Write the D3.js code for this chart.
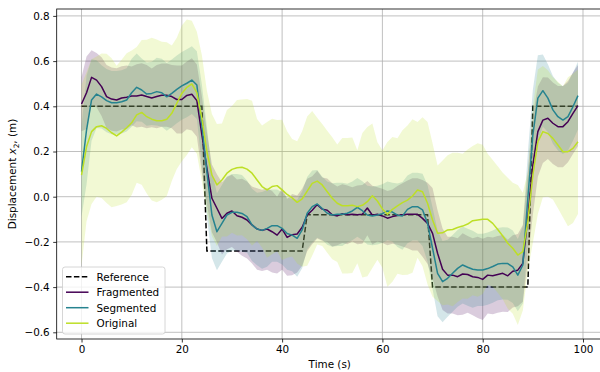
<!DOCTYPE html>
<html><head><meta charset="utf-8">
<script src="https://cdn.jsdelivr.net/npm/d3@7/dist/d3.min.js"></script>
<style>body{margin:0;background:#fff}svg{display:block;font-family:"DejaVu Sans",sans-serif}</style>
</head><body><svg id="c" width="600" height="372"></svg>
<script>
const reference = [0.4,0.4,0.4,0.4,0.4,0.4,0.4,0.4,0.4,0.4,0.4,0.4,0.4,0.4,0.4,0.4,0.4,0.4,0.4,0.4,0.4,0.4,0.4,0.4,0.4,
-0.24,-0.24,-0.24,-0.24,-0.24,-0.24,-0.24,-0.24,-0.24,-0.24,-0.24,-0.24,-0.24,-0.24,-0.24,-0.24,-0.24,-0.24,-0.24,-0.24,
-0.08,-0.08,-0.08,-0.08,-0.08,-0.08,-0.08,-0.08,-0.08,-0.08,-0.08,-0.08,-0.08,-0.08,-0.08,-0.08,-0.08,-0.08,-0.08,-0.08,-0.08,-0.08,-0.08,-0.08,-0.08,
-0.4,-0.4,-0.4,-0.4,-0.4,-0.4,-0.4,-0.4,-0.4,-0.4,-0.4,-0.4,-0.4,-0.4,-0.4,-0.4,-0.4,-0.4,-0.4,-0.4,
0.4,0.4,0.4,0.4,0.4,0.4,0.4,0.4,0.4,0.4];

const fragmented = [0.41,0.46,0.528,0.516,0.487,0.443,0.432,0.428,0.437,0.44,
0.446,0.446,0.45,0.443,0.437,0.443,0.449,0.449,0.443,0.43,
0.43,0.448,0.453,0.425,0.273,0.126,-0.007,-0.051,-0.096,-0.073,
-0.063,-0.084,-0.091,-0.103,-0.125,-0.143,-0.149,-0.143,-0.155,-0.17,
-0.143,-0.18,-0.168,-0.165,-0.135,-0.081,-0.06,-0.035,-0.055,-0.06,
-0.08,-0.085,-0.075,-0.08,-0.078,-0.08,-0.078,-0.05,-0.082,-0.078,
-0.085,-0.095,-0.088,-0.083,-0.08,-0.078,-0.078,-0.078,-0.096,-0.118,
-0.162,-0.25,-0.321,-0.347,-0.347,-0.354,-0.342,-0.344,-0.354,-0.357,
-0.366,-0.347,-0.35,-0.344,-0.339,-0.35,-0.33,-0.325,-0.295,-0.09,
0.14,0.288,0.339,0.347,0.325,0.31,0.31,0.332,0.369,0.403];

const segmented = [0.111,0.295,0.428,0.454,0.442,0.425,0.416,0.416,0.42,0.428,
0.46,0.484,0.472,0.454,0.457,0.465,0.46,0.442,0.457,0.475,
0.49,0.502,0.516,0.494,0.317,0.11,-0.081,-0.155,-0.118,-0.081,
-0.069,-0.069,-0.074,-0.088,-0.125,-0.143,-0.149,-0.14,-0.128,-0.128,
-0.14,-0.163,-0.17,-0.184,-0.147,-0.073,-0.044,-0.032,-0.052,-0.073,
-0.081,-0.078,-0.078,-0.073,-0.063,-0.047,-0.062,-0.081,-0.085,-0.081,
-0.075,-0.063,-0.068,-0.082,-0.085,-0.056,-0.044,-0.044,-0.058,-0.118,
-0.228,-0.339,-0.376,-0.361,-0.339,-0.317,-0.302,-0.312,-0.321,-0.324,
-0.324,-0.318,-0.309,-0.298,-0.295,-0.296,-0.31,-0.347,-0.302,-0.007,
0.273,0.436,0.469,0.436,0.384,0.354,0.339,0.354,0.398,0.447];

const original = [0.096,0.221,0.288,0.31,0.314,0.302,0.283,0.269,0.286,0.305,
0.327,0.362,0.373,0.354,0.343,0.336,0.336,0.343,0.369,0.413,
0.457,0.484,0.499,0.46,0.346,0.2,0.096,0.052,0.074,0.104,
0.121,0.128,0.13,0.122,0.104,0.074,0.045,0.03,0.045,0.049,
0.03,0.01,-0.005,-0.025,-0.01,0.025,0.059,0.069,0.052,0.022,
-0.007,-0.029,-0.04,-0.04,-0.038,-0.044,-0.038,-0.022,0.004,-0.019,
-0.054,-0.078,-0.056,-0.041,-0.026,-0.015,0.003,0.03,0.022,-0.029,
-0.103,-0.162,-0.16,-0.147,-0.145,-0.136,-0.13,-0.121,-0.106,-0.103,
-0.1,-0.1,-0.118,-0.145,-0.174,-0.206,-0.228,-0.258,-0.243,-0.11,
0.096,0.243,0.288,0.28,0.258,0.229,0.199,0.199,0.214,0.243];

const fragmentedStd = [0.12,0.16,0.12,0.12,0.13,0.14,0.14,0.14,0.14,0.14,
0.13,0.14,0.14,0.14,0.13,0.14,0.14,0.14,0.14,0.15,
0.15,0.15,0.16,0.16,0.17,0.16,0.15,0.15,0.16,0.16,
0.16,0.16,0.17,0.17,0.17,0.18,0.18,0.18,0.18,0.17,
0.18,0.17,0.18,0.17,0.17,0.16,0.15,0.15,0.14,0.14,
0.14,0.13,0.13,0.13,0.12,0.13,0.13,0.12,0.13,0.12,
0.12,0.12,0.12,0.13,0.14,0.15,0.16,0.16,0.17,0.18,
0.2,0.19,0.18,0.17,0.17,0.17,0.18,0.17,0.17,0.18,
0.18,0.17,0.17,0.17,0.17,0.16,0.16,0.16,0.17,0.2,
0.22,0.2,0.19,0.18,0.18,0.18,0.18,0.18,0.18,0.18];

const segmentedStd = [0.2,0.24,0.18,0.15,0.14,0.14,0.14,0.14,0.14,0.14,
0.15,0.15,0.14,0.14,0.14,0.15,0.15,0.15,0.15,0.15,
0.15,0.15,0.15,0.15,0.18,0.2,0.19,0.17,0.17,0.17,
0.17,0.17,0.17,0.16,0.16,0.16,0.17,0.17,0.16,0.16,
0.16,0.16,0.16,0.17,0.17,0.16,0.16,0.15,0.14,0.14,
0.14,0.14,0.14,0.13,0.13,0.13,0.13,0.13,0.13,0.13,
0.13,0.13,0.13,0.14,0.15,0.15,0.15,0.15,0.16,0.17,
0.18,0.19,0.18,0.17,0.17,0.17,0.17,0.17,0.17,0.16,
0.16,0.16,0.16,0.16,0.16,0.16,0.16,0.16,0.17,0.2,
0.2,0.19,0.16,0.15,0.15,0.15,0.15,0.15,0.15,0.15];

const originalStd = [0.40,0.33,0.32,0.31,0.32,0.33,0.33,0.31,0.32,0.33,
0.32,0.30,0.32,0.34,0.36,0.36,0.35,0.34,0.30,0.29,
0.30,0.30,0.28,0.27,0.28,0.27,0.27,0.27,0.25,0.28,
0.28,0.30,0.30,0.31,0.32,0.27,0.27,0.30,0.30,0.29,
0.31,0.28,0.26,0.27,0.30,0.33,0.32,0.28,0.27,0.27,
0.27,0.26,0.30,0.30,0.30,0.25,0.32,0.33,0.32,0.26,
0.26,0.32,0.32,0.30,0.32,0.33,0.34,0.30,0.33,0.36,
0.34,0.30,0.32,0.33,0.34,0.33,0.32,0.33,0.33,0.34,
0.33,0.29,0.28,0.28,0.28,0.29,0.29,0.31,0.26,0.22,
0.30,0.32,0.29,0.28,0.27,0.28,0.29,0.33,0.33,0.32];

const time = d3.range(reference.length);
const xTicks = [0, 20, 40, 60, 80, 100];
const yTicks = [-0.6, -0.4, -0.2, 0.0, 0.2, 0.4, 0.6, 0.8];
const seriesNames = ["Fragmented", "Segmented", "Original"];
const seriesColors = ["#440154", "#26838f", "#bddf26"];

const series = [
  {name: seriesNames[0], mean: fragmented, std: fragmentedStd, color: seriesColors[0]},
  {name: seriesNames[1], mean: segmented, std: segmentedStd, color: seriesColors[1]},
  {name: seriesNames[2], mean: original, std: originalStd, color: seriesColors[2]}
];

const svg = d3.select("#c");
const L = 56.7, R = 602.8, T = 9, B = 339;
const x = d3.scaleLinear().domain([-4.95, 103.95]).range([L, R]);
const y = d3.scaleLinear().domain([-0.6296, 0.8305]).range([B, T]);

svg.append("defs").append("clipPath").attr("id","clip")
  .append("rect").attr("x",L).attr("y",T).attr("width",R-L).attr("height",B-T);

// grid
const grid = svg.append("g");
grid.selectAll(".gx").data(xTicks).join("line")
  .attr("x1",d=>x(d)).attr("x2",d=>x(d)).attr("y1",T).attr("y2",B)
  .attr("stroke","#b0b0b0").attr("stroke-width",0.8);
grid.selectAll(".gy").data(yTicks).join("line")
  .attr("y1",d=>y(d)).attr("y2",d=>y(d)).attr("x1",L).attr("x2",R)
  .attr("stroke","#b0b0b0").attr("stroke-width",0.8);

const plot = svg.append("g").attr("clip-path","url(#clip)");

const line = d3.line().x((d,i)=>x(time[i])).y(d=>y(d));

plot.append("path").datum(reference).attr("d", line)
  .attr("fill","none").attr("stroke","#000").attr("stroke-width",1.5)
  .attr("stroke-dasharray","5.5,2.4");

series.forEach(s => {
  const area = d3.area()
    .x((d,i)=>x(time[i]))
    .y0((d,i)=>y(s.mean[i]-s.std[i]))
    .y1((d,i)=>y(s.mean[i]+s.std[i]));
  plot.append("path").datum(s.mean).attr("d", area)
    .attr("fill", s.color).attr("fill-opacity", 0.2).attr("stroke","none");
});
series.forEach(s => {
  plot.append("path").datum(s.mean).attr("d", line)
    .attr("fill","none").attr("stroke", s.color).attr("stroke-width",1.5)
    .attr("stroke-linejoin","round");
});

// frame
svg.append("rect").attr("x",L).attr("y",T).attr("width",R-L).attr("height",B-T)
  .attr("fill","none").attr("stroke","#000").attr("stroke-width",0.8);

// axes
const fs = "10.4px";
const xAxis = d3.axisBottom(x).tickValues(xTicks).tickSize(3.5).tickPadding(3.5).tickFormat(d3.format("d"));
const gx = svg.append("g").attr("transform",`translate(0,${B})`).call(xAxis);
const yAxis = d3.axisLeft(y).tickValues(yTicks).tickSize(3.5).tickPadding(3.5)
  .tickFormat(d => d3.format(".1f")(d).replace("-", "\u2212"));
const gy = svg.append("g").attr("transform",`translate(${L},0)`).call(yAxis);
[gx, gy].forEach(g => {
  g.select(".domain").remove();
  g.selectAll(".tick line").attr("stroke","#000").attr("stroke-width",0.8);
  g.selectAll(".tick text").attr("fill","#000").style("font-size",fs).style("font-family","DejaVu Sans");
});

svg.append("text").attr("x",(L+R)/2).attr("y",368).attr("text-anchor","middle")
  .style("font-size",fs).text("Time (s)");

const yl = svg.append("text").attr("transform",`translate(16,${(T+B)/2}) rotate(-90)`)
  .attr("text-anchor","middle").style("font-size",fs);
yl.append("tspan").text("Displacement ");
yl.append("tspan").attr("font-style","italic").text("x");
yl.append("tspan").attr("dy","2.5").style("font-size","7.3px").text("2");
yl.append("tspan").attr("dy","-2.5").text(", (m)");

// legend
const legendItems = [{name:"Reference", color:"#000", dash:"5.5,2.4"}]
  .concat(series.map(s => ({name:s.name, color:s.color, dash:null})));
const lg = svg.append("g");
lg.append("rect").attr("x",62.5).attr("y",267).attr("width",102.5).attr("height",67)
  .attr("rx",2.5).attr("fill","#fff").attr("fill-opacity",0.8)
  .attr("stroke","#cccccc").attr("stroke-width",0.8);
legendItems.forEach((it, i) => {
  const cy = 276.7 + i*15.5;
  lg.append("line").attr("x1",66).attr("x2",88.5).attr("y1",cy).attr("y2",cy)
    .attr("stroke",it.color).attr("stroke-width",1.5)
    .attr("stroke-dasharray", it.dash);
  lg.append("text").attr("x",96.5).attr("y",cy+3.8).style("font-size",fs).text(it.name);
});
</script></body></html>
